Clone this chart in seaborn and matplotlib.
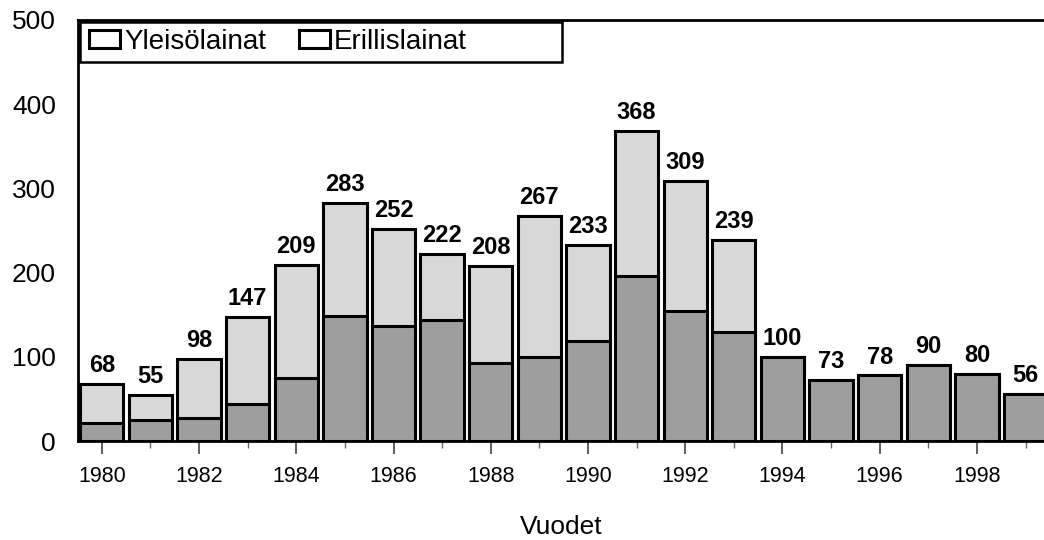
import matplotlib
matplotlib.use("Agg")
import matplotlib.pyplot as plt
import seaborn as sns
import pandas as pd
from matplotlib.patches import Patch, Rectangle

years = [str(y) for y in range(1980, 2000)]
totals = [68, 55, 98, 147, 209, 283, 252, 222, 208, 267, 233, 368, 309, 239, 100, 73, 78, 90, 80, 56]
yleiso = [22, 25, 28, 44, 75, 149, 137, 144, 93, 100, 119, 196, 155, 130, 100, 73, 78, 90, 80, 56]
series_names = ["Yleisölainat", "Erillislainat"]
xlabel = "Vuodet"
yticks = [0, 100, 200, 300, 400, 500]

sns.set_style("white")
plt.rcParams["font.family"] = ["Liberation Sans", "DejaVu Sans"]
plt.rcParams["text.color"] = "black"
plt.rcParams["axes.labelcolor"] = "black"
plt.rcParams["xtick.color"] = "black"
plt.rcParams["ytick.color"] = "black"

df = pd.DataFrame({"year": years, "total": totals, "yleiso": yleiso})

fig = plt.figure(figsize=(10.44, 5.4), dpi=100)
ax = fig.add_axes([0.0747, 0.183, 0.9253, 0.780])

upper_col = "#d8d8d8"
lower_col = "#9e9e9e"

sns.barplot(data=df, x="year", y="total", color=upper_col, saturation=1,
            edgecolor="black", linewidth=2.2, width=0.89, ax=ax)
sns.barplot(data=df, x="year", y="yleiso", color=lower_col, saturation=1,
            edgecolor="black", linewidth=2.2, width=0.89, ax=ax)

ax.bar_label(ax.containers[0], labels=[str(v) for v in totals], padding=5,
             fontsize=17, fontweight="bold", color="black")

ax.set_ylim(0, 500)
ax.set_xlim(-0.49, 19.38)
ax.set_yticks(yticks)
ax.set_yticklabels([str(v) for v in yticks], fontsize=19)
ax.tick_params(axis="y", length=0, pad=16)

ax.set_xticks(range(0, 20, 2))
ax.set_xticklabels(years[::2], fontsize=15.5)
ax.set_xticks(range(1, 20, 2), minor=True)
ax.tick_params(axis="x", which="major", length=9, width=1.2, color="#444444",
               direction="out", bottom=True, pad=9)
ax.tick_params(axis="x", which="minor", length=5, width=1.0, color="#666666",
               direction="out", bottom=True)
ax.set_xlabel(xlabel, fontsize=19, labelpad=20)
ax.set_ylabel("")

for side in ["left", "bottom", "top"]:
    ax.spines[side].set_visible(True)
    ax.spines[side].set_color("black")
    ax.spines[side].set_linewidth(2)
ax.spines["right"].set_visible(False)

# legend box (wider than its contents, as in the original)
ax.add_patch(Rectangle((0.002, 0.900), 0.499, 0.095, transform=ax.transAxes,
                       facecolor="white", edgecolor="black", linewidth=1.8,
                       zorder=4))
handles = [Patch(facecolor="white", edgecolor="black", linewidth=2.2) for _ in series_names]
leg = ax.legend(handles, series_names, loc="center left", ncol=2, fontsize=20,
                frameon=False, bbox_to_anchor=(0.003, 0.948),
                borderaxespad=0.0, handlelength=1.1, handleheight=0.65,
                handletextpad=0.15, columnspacing=1.2, borderpad=0.3)
leg.set_zorder(5)

fig.savefig("out.png", dpi=100)
